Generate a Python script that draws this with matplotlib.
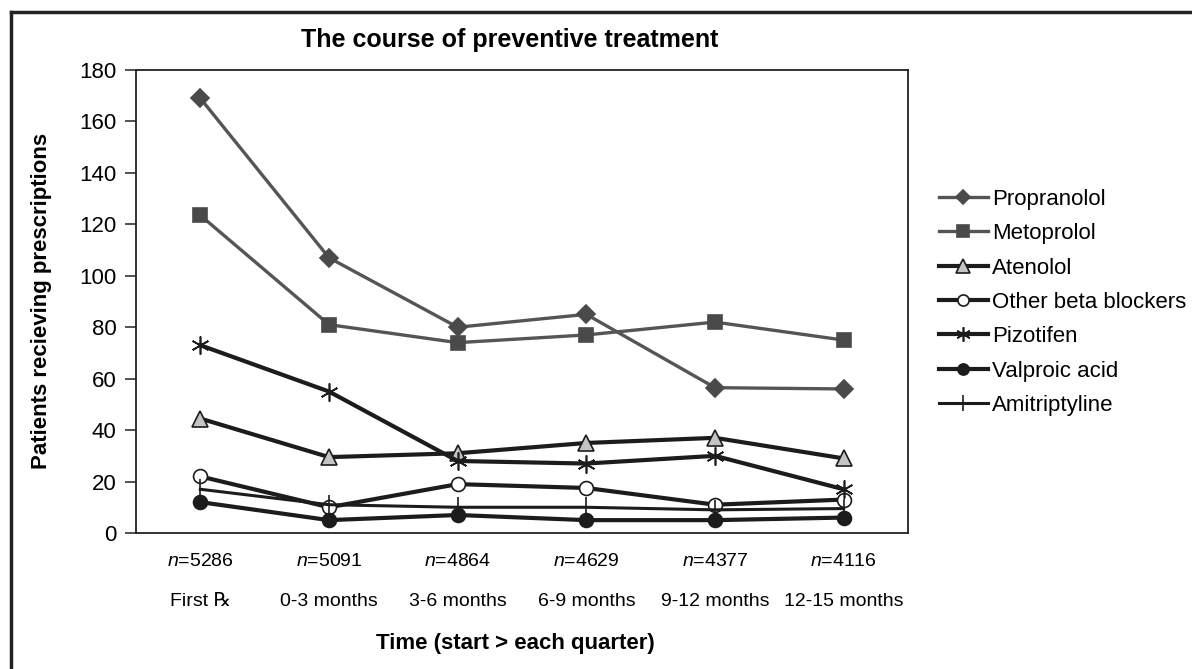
import matplotlib

matplotlib.use("Agg")
import matplotlib.pyplot as plt
from matplotlib.lines import Line2D
from matplotlib.transforms import blended_transform_factory

plt.rcParams["font.family"] = ["Liberation Sans", "DejaVu Sans"]
plt.rcParams["mathtext.fontset"] = "custom"
plt.rcParams["mathtext.it"] = "Liberation Sans:italic"
plt.rcParams["mathtext.rm"] = "Liberation Sans"

# data
periods = ["First \u211e", "0-3 months", "3-6 months", "6-9 months", "9-12 months", "12-15 months"]
n_patients = [5286, 5091, 4864, 4629, 4377, 4116]

propranolol = [169, 107, 80, 85, 56.5, 56]
metoprolol = [123.5, 81, 74, 77, 82, 75]
atenolol = [44.5, 29.5, 31, 35, 37, 29]
other_beta = [22, 10, 19, 17.5, 11, 13]
pizotifen = [73, 55, 28, 27, 30, 17]
valproic = [12, 5, 7, 5, 5, 6]
amitriptyline = [17, 11, 10, 10, 9, 9.5]

GRAY = "#555555"
DARK = "#1c1c1c"

fig = plt.figure(figsize=(11.92, 6.69), dpi=100)
ax = fig.add_axes([136 / 1192, 136 / 669, 772 / 1192, 463 / 669])
x = range(len(periods))

# (label, values, line colour, marker, face, size, lw)
series = [
    ("Propranolol", propranolol, GRAY, "D", "#4a4a4a", 9, 2.4),
    ("Metoprolol", metoprolol, GRAY, "s", "#4a4a4a", 10, 2.4),
    ("Atenolol", atenolol, DARK, "^", "#c4c4c4", 12, 3.0),
    ("Other beta blockers", other_beta, DARK, "o", "white", 10, 3.0),
    ("Pizotifen", pizotifen, DARK, (6, 2, 0), DARK, 13, 3.0),
    ("Valproic acid", valproic, DARK, "o", DARK, 10, 3.0),
    ("Amitriptyline", amitriptyline, DARK, "|", DARK, 14, 2.2),
]

handles = []
for label, vals, col, mk, face, ms, lw in series:
    edge = DARK if col == DARK else face
    ax.plot(x, vals, color=col, lw=lw, marker=mk, markersize=ms,
            markerfacecolor=face, markeredgecolor=edge, markeredgewidth=1.2, zorder=3)
    handles.append(Line2D([], [], color=col, lw=lw, marker=mk, markersize=ms * 0.8,
                          markerfacecolor=face, markeredgecolor=edge, markeredgewidth=1.2))

ax.set_xlim(-0.5, 5.5)
ax.set_ylim(0, 180)
ax.set_yticks(range(0, 181, 20))
ax.set_xticks([])
ax.tick_params(axis="y", labelsize=16, length=8, width=1.2, color="#333333", pad=6)
for s in ax.spines.values():
    s.set_linewidth(1.3)
    s.set_color("#222222")

# two rows of category labels under the axis
trans = blended_transform_factory(ax.transData, fig.transFigure)
for i, (p, n) in enumerate(zip(periods, n_patients)):
    ax.text(i, 1 - 562 / 669, f"$n$={n}", transform=trans, ha="center", va="center", fontsize=14)
    ax.text(i, 1 - 602 / 669, p, transform=trans, ha="center", va="center", fontsize=14)

fig.text(515 / 1192, 1 - 643 / 669, "Time (start > each quarter)", ha="center", va="center",
         fontsize=16, fontweight="bold")
fig.text(42 / 1192, 1 - 301 / 669, "Patients recieving prescriptions", ha="center", va="center",
         rotation=90, fontsize=16, fontweight="bold")
fig.text(510 / 1192, 1 - 40 / 669, "The course of preventive treatment", ha="center", va="center",
         fontsize=18, fontweight="bold")

fig.legend(handles, [s[0] for s in series], loc="upper left",
           bbox_to_anchor=(930 / 1192, 1 - 180 / 669), frameon=False, fontsize=16,
           handlelength=2.2, handletextpad=0.2, labelspacing=0.6, borderaxespad=0)

# outer frame, only its top and left edges fall inside the image
fig.add_artist(Line2D([11 / 1192, 11 / 1192], [0, 1 - 12 / 669], color="#222222", lw=2.5,
                      transform=fig.transFigure))
fig.add_artist(Line2D([11 / 1192, 1], [1 - 12 / 669, 1 - 12 / 669], color="#222222", lw=2.5,
                      transform=fig.transFigure))

fig.savefig("out.png", dpi=100)
